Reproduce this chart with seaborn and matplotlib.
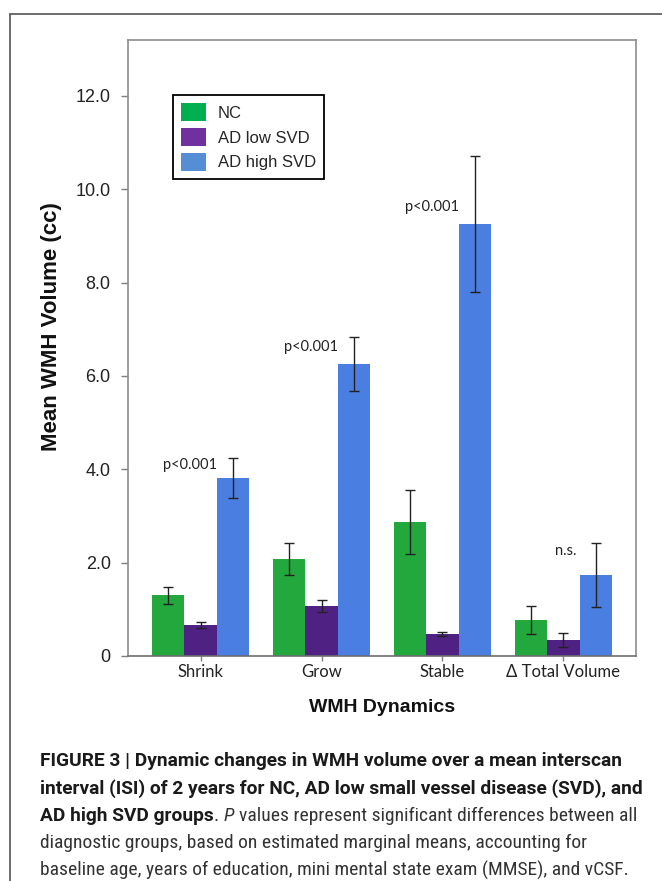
import matplotlib
matplotlib.use("Agg")
import matplotlib.pyplot as plt
import seaborn as sns
import pandas as pd
from matplotlib.patches import Patch
from matplotlib.lines import Line2D
from matplotlib import font_manager

# values
categories = ["Shrink", "Grow", "Stable", "Δ Total Volume"]
groups = ["NC", "AD low SVD", "AD high SVD"]
nc_mean = [1.30, 2.08, 2.87, 0.77]
nc_err = [0.18, 0.35, 0.69, 0.30]
low_mean = [0.66, 1.08, 0.47, 0.34]
low_err = [0.06, 0.13, 0.05, 0.15]
high_mean = [3.81, 6.26, 9.26, 1.73]
high_err = [0.43, 0.58, 1.46, 0.69]
p_labels = ["p<0.001", "p<0.001", "p<0.001", "n.s."]
p_label_y = [4.09, 6.62, 9.62, 2.25]

bar_colors = ["#22a83c", "#4e2183", "#4a7ee0"]
legend_colors = ["#00b050", "#7030a0", "#558ed5"]

caption = [
    [("FIGURE 3 | Dynamic changes in WMH volume over a mean interscan", "bold", "normal")],
    [("interval (ISI) of 2 years for NC, AD low small vessel disease (SVD), and", "bold", "normal")],
    [("AD high SVD groups", "bold", "normal"), (".", "normal", "normal"),
     ("P", "normal", "italic"),
     ("values represent significant differences between all", "normal", "normal")],
    [("diagnostic groups, based on estimated marginal means, accounting for", "normal", "normal")],
    [("baseline age, years of education, mini mental state exam (MMSE), and vCSF.", "normal", "normal")],
]

df = pd.DataFrame({
    "dynamic": categories * 3,
    "group": [g for g in groups for _ in categories],
    "mean": nc_mean + low_mean + high_mean,
})
errs = [nc_err, low_err, high_err]
means = [nc_mean, low_mean, high_mean]

sns.set_style("white")
plt.rcParams["font.family"] = ["Liberation Sans", "DejaVu Sans"]

W, H = 662, 881
fig = plt.figure(figsize=(W / 100, H / 100), dpi=100)
ax = fig.add_axes([128 / W, 1 - 656 / H, 508 / W, 616 / H])

sns.barplot(data=df, x="dynamic", y="mean", hue="group", hue_order=groups,
            order=categories, palette=bar_colors, saturation=1, width=0.8,
            errorbar=None, legend=False, ax=ax, edgecolor="none")

for cont, m, e in zip(ax.containers, means, errs):
    xs = [b.get_x() + b.get_width() / 2 for b in cont]
    ax.errorbar(xs, m, yerr=e, fmt="none", ecolor="#222222", elinewidth=1,
                capsize=3.5, capthick=1)

for i, (lab, y) in enumerate(zip(p_labels, p_label_y)):
    dx = 0.02 if lab == "n.s." else -0.09
    ax.text(i + dx, y, lab, ha="center", va="center", fontsize=10.5,
            family=["Lato", "DejaVu Sans"], color="#222222")

ax.set_xlim(-0.6, 3.6)
ax.set_ylim(0, 13.2)
ax.set_yticks([0, 2, 4, 6, 8, 10, 12])
ax.set_yticklabels(["0", "2.0", "4.0", "6.0", "8.0", "10.0", "12.0"])
ax.tick_params(axis="y", length=5, width=1, color="#7f7f7f", pad=7.5,
               labelsize=13, labelcolor="#222222", left=True)
ax.tick_params(axis="x", length=3.6, width=1, color="#7f7f7f", pad=2,
               labelsize=12, labelcolor="#222222", bottom=True)
for t in ax.get_xticklabels():
    t.set_family(["Lato", "DejaVu Sans"])
for s in ax.spines.values():
    s.set_visible(True)
    s.set_color("#8c8c8c")
    s.set_linewidth(1.2)
ax.spines["bottom"].set_color("#6e6e6e")

ax.set_ylabel("Mean WMH Volume (cc)", fontsize=16, fontweight="bold", color="#111111")
ax.yaxis.set_label_coords(-0.13, 0.534)
ax.set_xlabel("WMH Dynamics", fontsize=14, fontweight="bold", color="#111111", va="top")
ax.xaxis.set_label_coords(0.5, -0.07)

handles = [Patch(facecolor=c, edgecolor="none", label=g) for c, g in zip(legend_colors, groups)]
leg = ax.legend(handles=handles, loc="upper left", bbox_to_anchor=(0.088, 0.911),
                borderaxespad=0, fontsize=12, handlelength=1.5, handleheight=1.3,
                labelspacing=0.4, handletextpad=0.7, borderpad=0.5,
                fancybox=False, framealpha=1, edgecolor="black")
leg.get_frame().set_linewidth(1.3)

# outer frame of the figure panel
fig.add_artist(Line2D([10 / W, 1], [1 - 14 / H, 1 - 14 / H], transform=fig.transFigure,
                      color="#555555", lw=1.2))
fig.add_artist(Line2D([10 / W, 10 / W], [1 - 14 / H, 0], transform=fig.transFigure,
                      color="#555555", lw=1.2))

# caption: bold parts in Roboto, regular parts in a condensed face
names = {f.name for f in font_manager.fontManager.ttflist}
reg_font = "Roboto"
for cand in ["Roboto Condensed", "Liberation Sans Narrow", "Roboto"]:
    if cand in names:
        reg_font = cand
        break

fig.canvas.draw()
renderer = fig.canvas.get_renderer()
line_y = [761, 789, 816, 843, 870]
for runs, yy in zip(caption, line_y):
    x = 40
    for k, (s, w, st) in enumerate(runs):
        if k > 0 and s != ".":
            x += 4.5
        fam = "Roboto" if w == "bold" else reg_font
        t = fig.text(x / W, 1 - yy / H, s, fontsize=13.8 if w == "bold" else 14,
                     fontweight=w, style=st, family=[fam, "DejaVu Sans"],
                     color="#1a1a1a" if w == "bold" else "#333333",
                     ha="left", va="center")
        x = t.get_window_extent(renderer).x1

fig.savefig("out.png", dpi=100)
